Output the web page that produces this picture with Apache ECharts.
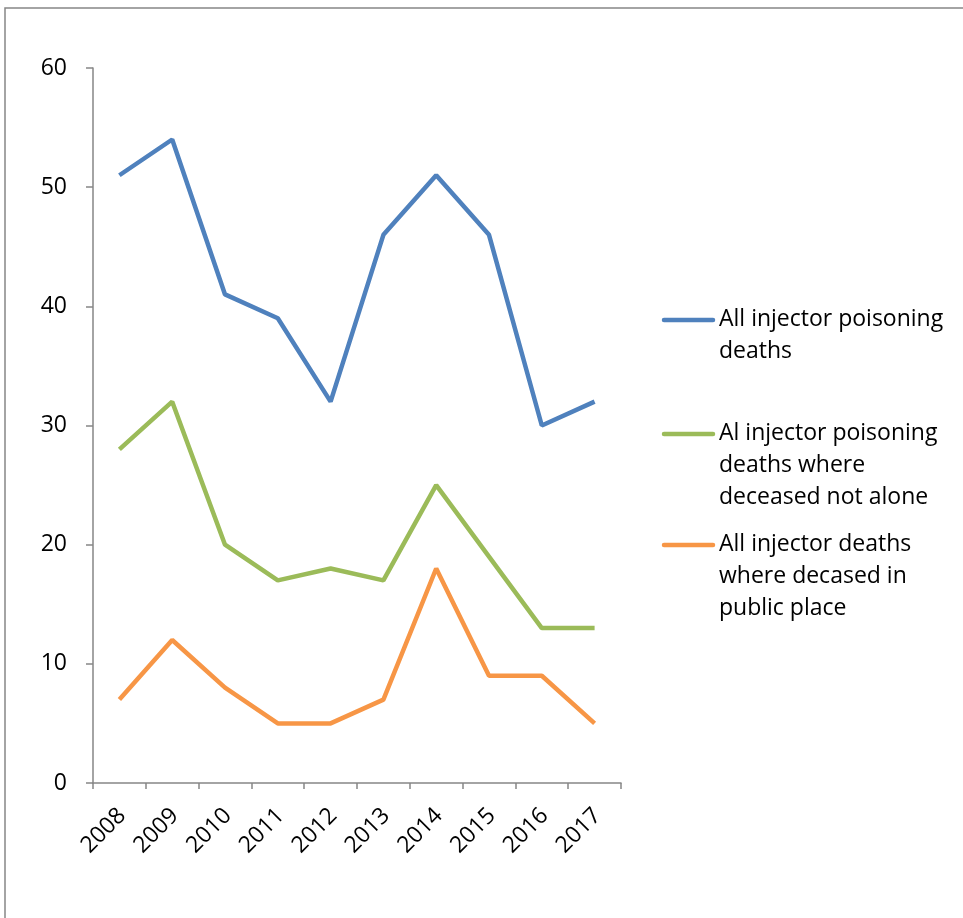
<!DOCTYPE html>
<html><head><meta charset="utf-8">
<script src="https://cdn.jsdelivr.net/npm/echarts@6/dist/echarts.min.js"></script>
<style>html,body{margin:0;padding:0;background:#fff}#c{width:963px;height:918px}</style>
</head><body><div id="c"></div>
<script>
const years = ['2008','2009','2010','2011','2012','2013','2014','2015','2016','2017'];
const allDeaths = [51, 54, 41, 39, 32, 46, 51, 46, 30, 32];
const notAlone = [28, 32, 20, 17, 18, 17, 25, 19, 13, 13];
const publicPlace = [7, 12, 8, 5, 5, 7, 18, 9, 9, 5];
const seriesNames = ['All injector poisoning\ndeaths', 'Al injector poisoning\ndeaths where\ndeceased not alone', 'All injector deaths\nwhere decased in\npublic place'];
const colors = ['#4F81BD', '#9BBB59', '#F79646'];
const legendTops = [320, 434, 545];

const FONT = 'Open Sans';
const FS = 23;
const chart = echarts.init(document.getElementById('c'));
const legendGraphics = [];
seriesNames.forEach((n, i) => {
  legendGraphics.push({type:'line', shape:{x1:664, y1:legendTops[i], x2:713, y2:legendTops[i]}, style:{stroke:colors[i], lineWidth:4.5, lineCap:'round'}});
  legendGraphics.push({type:'text', left:719, top:legendTops[i]-17, style:{text:n, font:FS+'px "'+FONT+'"', fill:'#000', lineHeight:32}});
});
chart.setOption({
  animation:false,
  textStyle:{fontFamily:FONT},
  grid:{left:93, right:342, top:68, bottom:135},
  xAxis:{type:'category', data:years, boundaryGap:true,
    axisLine:{lineStyle:{color:'#868686', width:1.5}},
    axisTick:{show:true, length:6, lineStyle:{color:'#868686', width:1.5}},
    axisLabel:{rotate:45, color:'#000', fontSize:FS, fontFamily:FONT, margin:32, padding:[0,-4,0,0]}},
  yAxis:{type:'value', min:0, max:60, interval:10,
    axisLine:{show:true, lineStyle:{color:'#868686', width:1.5}},
    axisTick:{show:true, length:7, lineStyle:{color:'#868686', width:1.5}},
    splitLine:{show:false},
    axisLabel:{color:'#000', fontSize:FS, fontFamily:FONT, margin:26}},
  series:[
    {name:seriesNames[0], type:'line', data:allDeaths, symbol:'none', lineStyle:{color:colors[0], width:4.5}, itemStyle:{color:colors[0]}},
    {name:seriesNames[1], type:'line', data:notAlone, symbol:'none', lineStyle:{color:colors[1], width:4.5}, itemStyle:{color:colors[1]}},
    {name:seriesNames[2], type:'line', data:publicPlace, symbol:'none', lineStyle:{color:colors[2], width:4.5}, itemStyle:{color:colors[2]}}
  ],
  graphic:[
    {type:'rect', shape:{x:5, y:8, width:1000, height:1000}, style:{fill:'none', stroke:'#868686', lineWidth:1.5}, z:-1},
    ...legendGraphics
  ]
});
</script></body></html>
